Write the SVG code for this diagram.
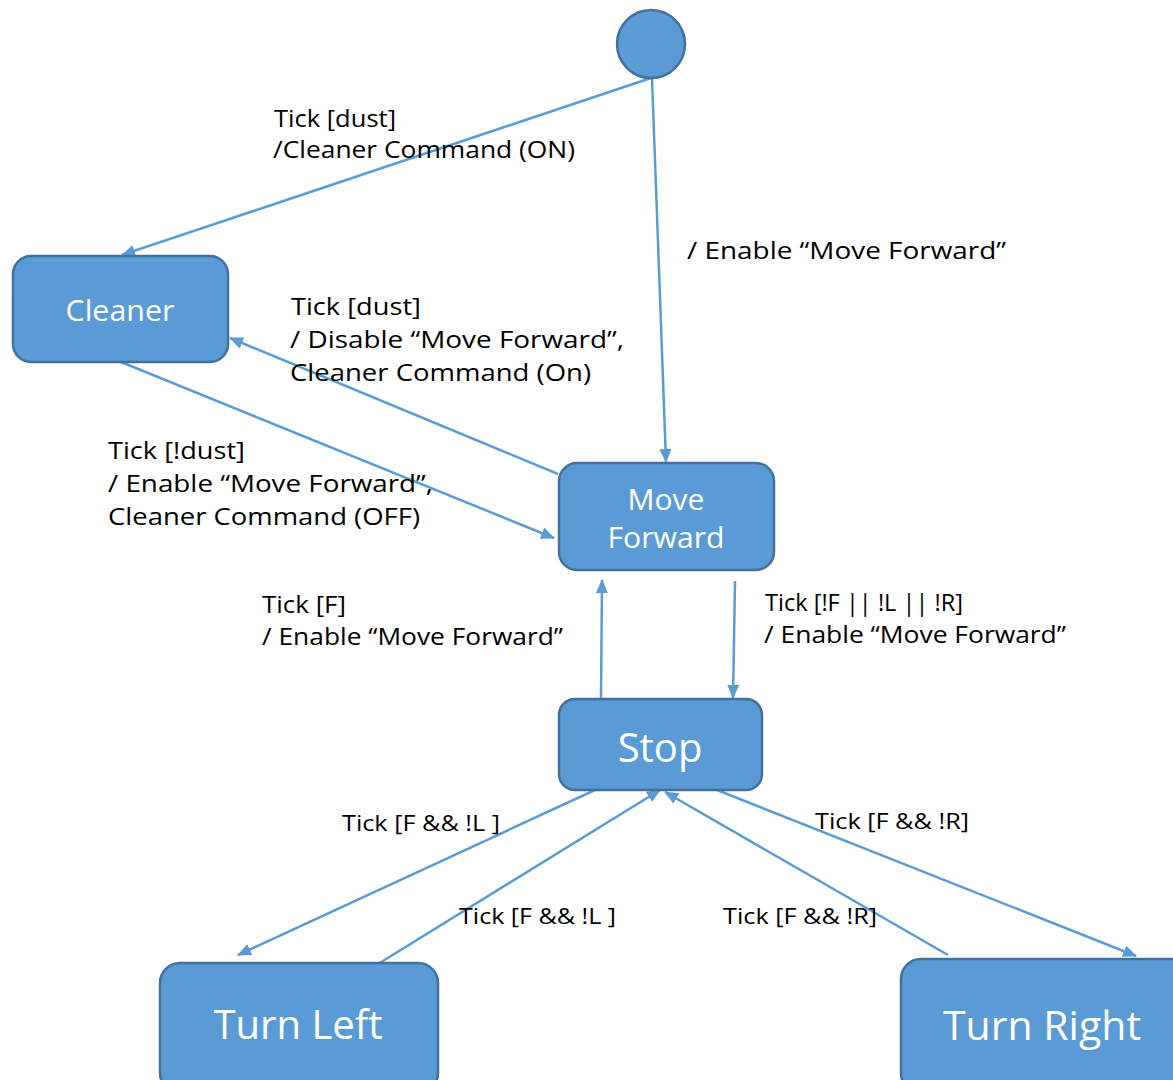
<svg xmlns="http://www.w3.org/2000/svg" width="1173" height="1080" viewBox="0 0 1173 1080">
<style>
.node{fill:#5B9BD5;stroke:#41719C;stroke-width:2.5}
.nt{fill:#fff;font-family:"Open Sans","Noto Sans",sans-serif;text-anchor:middle}
.lb{fill:#000;font-family:"Open Sans","Noto Sans",sans-serif;font-size:24px}
.sm{fill:#000;font-family:"Open Sans","Noto Sans",sans-serif;font-size:21px}
.edge{stroke:#5B9BD5;stroke-width:2.5;fill:none;marker-end:url(#ah)}
</style>
<defs>
<marker id="ah" viewBox="0 0 14 12" refX="13" refY="6" markerWidth="14" markerHeight="12" markerUnits="userSpaceOnUse" orient="auto">
<path d="M0,0 L14,6 L0,12 Z" fill="#5B9BD5"/>
</marker>
</defs>
<rect width="1173" height="1080" fill="#fff"/>
<g id="connectors">
<line class="edge" x1="651" y1="78" x2="122" y2="255"/>
<line class="edge" x1="652" y1="78" x2="666" y2="462"/>
<line class="edge" x1="558" y1="474" x2="230" y2="338"/>
<line class="edge" x1="121" y1="362" x2="554" y2="538"/>
<line class="edge" x1="601" y1="699" x2="602" y2="580"/>
<line class="edge" x1="735" y1="581" x2="733" y2="698"/>
<line class="edge" x1="595" y1="790" x2="238" y2="955"/>
<line class="edge" x1="378" y1="964" x2="660" y2="790"/>
<line class="edge" x1="948" y1="955" x2="665" y2="792"/>
<line class="edge" x1="717" y1="790" x2="1136" y2="956"/>
</g>
<g id="initial"><circle class="node" cx="651" cy="44" r="34"/></g>
<g id="cleaner"><rect class="node" x="13" y="256" width="215" height="106" rx="18"/><text class="nt" x="120" y="321" font-size="30" textLength="109" lengthAdjust="spacingAndGlyphs">Cleaner</text></g>
<g id="move-forward"><rect class="node" x="559" y="463" width="215" height="107" rx="18"/><text class="nt" x="666" y="510" font-size="30">Move</text><text class="nt" x="666" y="548" font-size="30" textLength="117" lengthAdjust="spacingAndGlyphs">Forward</text></g>
<g id="stop"><rect class="node" x="559" y="699" width="203" height="91" rx="16"/><text class="nt" x="660" y="762" font-size="40">Stop</text></g>
<g id="turn-left"><rect class="node" x="160" y="963" width="278" height="130" rx="20"/><text class="nt" x="298" y="1039" font-size="40" textLength="169" lengthAdjust="spacingAndGlyphs">Turn Left</text></g>
<g id="turn-right"><rect class="node" x="901" y="959" width="290" height="134" rx="20"/><text class="nt" x="1042" y="1040" font-size="40" textLength="198" lengthAdjust="spacingAndGlyphs">Turn Right</text></g>
<g id="labels">
<text class="lb" x="274" y="127" textLength="122" lengthAdjust="spacingAndGlyphs">Tick [dust]</text>
<text class="lb" x="273" y="158" textLength="302" lengthAdjust="spacingAndGlyphs">/Cleaner Command (ON)</text>
<text class="lb" x="687" y="259" textLength="319" lengthAdjust="spacingAndGlyphs">/ Enable “Move Forward”</text>
<text class="lb" x="291" y="315" textLength="130" lengthAdjust="spacingAndGlyphs">Tick [dust]</text>
<text class="lb" x="290" y="348" textLength="334" lengthAdjust="spacingAndGlyphs">/ Disable “Move Forward”,</text>
<text class="lb" x="290" y="381" textLength="301" lengthAdjust="spacingAndGlyphs">Cleaner Command (On)</text>
<text class="lb" x="108" y="459" textLength="137" lengthAdjust="spacingAndGlyphs">Tick [!dust]</text>
<text class="lb" x="108" y="492" textLength="325" lengthAdjust="spacingAndGlyphs">/ Enable “Move Forward”,</text>
<text class="lb" x="108" y="525" textLength="312" lengthAdjust="spacingAndGlyphs">Cleaner Command (OFF)</text>
<text class="lb" x="262" y="613" textLength="84" lengthAdjust="spacingAndGlyphs">Tick [F]</text>
<text class="lb" x="262" y="645" textLength="301" lengthAdjust="spacingAndGlyphs">/ Enable “Move Forward”</text>
<text class="lb" x="765" y="611" textLength="198" lengthAdjust="spacingAndGlyphs">Tick [!F || !L || !R]</text>
<text class="lb" x="764" y="643" textLength="302" lengthAdjust="spacingAndGlyphs">/ Enable “Move Forward”</text>
<text class="sm" x="342" y="831" textLength="158" lengthAdjust="spacingAndGlyphs">Tick [F &amp;&amp; !L ]</text>
<text class="sm" x="815" y="829" textLength="154" lengthAdjust="spacingAndGlyphs">Tick [F &amp;&amp; !R]</text>
<text class="sm" x="459" y="924" textLength="157" lengthAdjust="spacingAndGlyphs">Tick [F &amp;&amp; !L ]</text>
<text class="sm" x="723" y="924" textLength="154" lengthAdjust="spacingAndGlyphs">Tick [F &amp;&amp; !R]</text>
</g>
</svg>
